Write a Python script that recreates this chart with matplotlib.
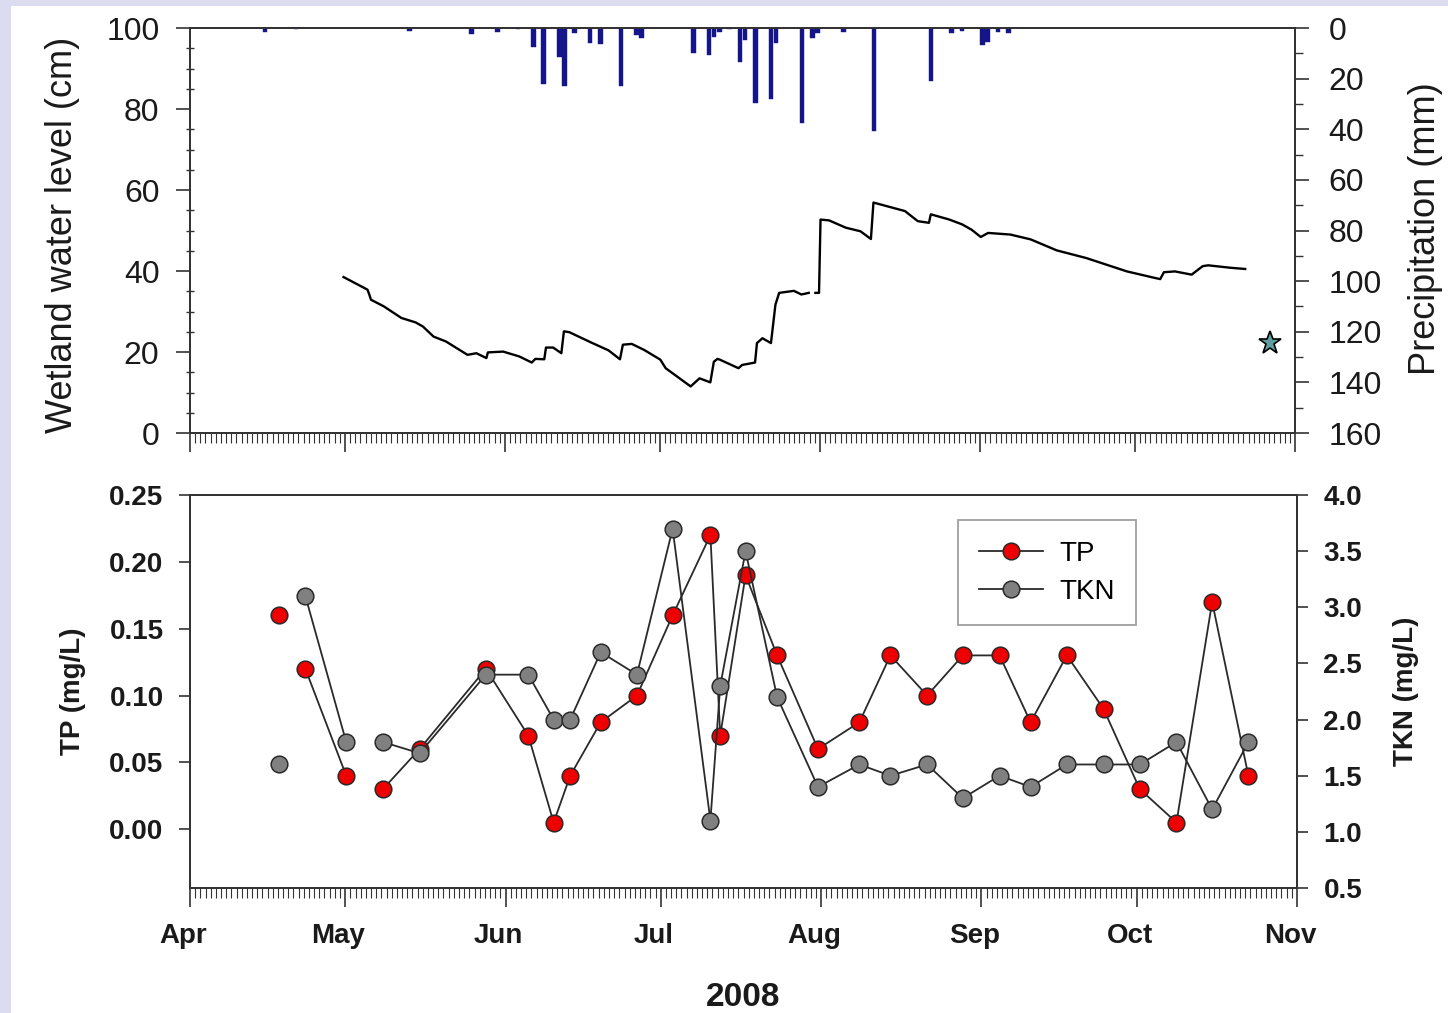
import datetime as dt
import numpy as np
import matplotlib
matplotlib.use("Agg")
import matplotlib.pyplot as plt
import matplotlib.dates as mdates
from matplotlib.ticker import MultipleLocator, FormatStrFormatter
from matplotlib.patches import Rectangle
from matplotlib.transforms import ScaledTranslation

plt.rcParams['font.family'] = ['Liberation Sans', 'DejaVu Sans']

# ---------------- data (days after 1 Apr 2008) ----------------
# wetland water level (cm)
wl_days = [29.74, 34.37, 34.72, 35.05, 37.49, 40.94, 43.71, 45.10, 47.17, 49.57,
           53.74, 55.46, 57.40, 57.69, 60.65, 63.77, 66.19, 66.89, 68.61, 68.94,
           70.33, 71.92, 72.41, 73.45, 77.60, 81.06, 83.27, 83.83, 85.55, 87.97,
           91.09, 92.12, 96.96, 98.68, 100.77, 101.45, 102.15, 102.63, 106.22, 106.93,
           109.43, 109.80, 110.86, 112.51, 113.38, 114.10, 116.96, 118.40, 119.83, 120.5,
           121.11, 121.82, 122.11, 123.76, 126.99, 129.86, 131.87, 132.36, 138.46, 140.96,
           143.11, 143.47, 147.06, 149.55, 151.36, 153.14, 154.57, 158.87, 162.82, 167.84,
           173.57, 181.45, 186.81, 187.90, 188.61, 190.74, 193.98, 196.13, 197.19, 201.49,
           204.36]
wl_level = [38.5, 35.4, 34.2, 32.9, 31.3, 28.4, 27.3, 26.3, 23.8, 22.6,
            19.3, 19.7, 18.5, 19.9, 20.1, 18.9, 17.4, 18.3, 18.2, 21.1,
            21.1, 19.7, 25.1, 24.9, 22.4, 20.4, 18.2, 21.8, 22.0, 20.5,
            18.1, 16.0, 11.5, 13.5, 12.5, 17.6, 18.3, 18.1, 16.0, 16.8,
            17.4, 22.2, 23.4, 22.2, 31.7, 34.6, 35.1, 34.2, 34.6, np.nan,
            34.6, 34.6, 52.7, 52.5, 50.7, 49.8, 47.9, 56.9, 54.8, 52.3,
            51.9, 54.0, 52.7, 51.5, 50.2, 48.4, 49.4, 49.0, 47.8, 45.1,
            43.2, 39.9, 38.3, 38.0, 39.7, 39.9, 39.1, 41.2, 41.4, 40.8,
            40.5]

# daily precipitation (mm)
precip_days = [14, 20, 42, 54, 59, 63, 66, 68, 71, 72, 74, 77, 79, 83, 86, 87,
               97, 100, 101, 102, 104, 106, 107, 109, 112, 113, 118, 120, 121,
               126, 132, 143, 147, 149, 153, 154, 156, 158]
precip_mm = [1.5, 0.5, 1.0, 2.5, 1.5, 0.5, 7.4, 22, 11.6, 23, 2.0, 5.8, 6.3, 23, 2.8, 4.0,
             10, 10.7, 3.4, 1.5, 0.5, 13.3, 4.8, 29.6, 27.9, 6.0, 37.5, 4.0, 2.0,
             1.5, 40.7, 21, 2.0, 1.0, 6.7, 5.4, 1.5, 2.0]

# marker (star)
star_day = [209.1]
star_level = [22.2]

# water quality samples
sample_days = [17.3, 22.3, 30.2, 37.3, 44.4, 57.2, 65.4, 70.3, 73.5, 79.4,
               86.4, 93.3, 100.6, 102.5, 107.4, 113.5, 121.4, 129.4, 135.4, 142.5,
               149.4, 156.5, 162.5, 169.5, 176.6, 183.6, 190.7, 197.6, 204.6]
tp = [0.16, 0.12, 0.04, 0.03, 0.06, 0.12, 0.07, 0.005, 0.04, 0.08,
      0.10, 0.16, 0.22, 0.07, 0.19, 0.13, 0.06, 0.08, 0.13, 0.10,
      0.13, 0.13, 0.08, 0.13, 0.09, 0.03, 0.005, 0.17, 0.04]
tkn = [1.6, 3.1, 1.8, 1.8, 1.7, 2.4, 2.4, 2.0, 2.0, 2.6,
       2.4, 3.7, 1.1, 2.3, 3.5, 2.2, 1.4, 1.6, 1.5, 1.6,
       1.3, 1.5, 1.4, 1.6, 1.6, 1.6, 1.8, 1.2, 1.8]
# sampling breaks (no line drawn across): after index 0 and after index 2
breaks = [0, 2]

month_labels = ['Apr', 'May', 'Jun', 'Jul', 'Aug', 'Sep', 'Oct', 'Nov']

# ---------------- figure ----------------
W, H = 1448, 1013
fig = plt.figure(figsize=(W / 100, H / 100), dpi=100, facecolor='#dcdcf0')
fig.add_artist(Rectangle((11 / W, 0), 1, 1 - 6 / H, transform=fig.transFigure,
                         facecolor='white', edgecolor='none', zorder=-5))

base = mdates.date2num(dt.datetime(2008, 4, 1))
xmax = mdates.date2num(dt.datetime(2008, 11, 1))


def with_breaks(x, y, brk):
    xs, ys = [], []
    for i, (a, b) in enumerate(zip(x, y)):
        xs.append(a)
        ys.append(b)
        if i in brk:
            xs.append(a + 0.01)
            ys.append(np.nan)
    return np.array(xs), np.array(ys)


spine_col = '#333333'
txt_col = '#1a1a1a'

# ---------------- top panel ----------------
ax1 = fig.add_axes([190 / W, 1 - 433 / H, 1105 / W, 405 / H])
ax1.set_facecolor('none')
ax1.plot(base + np.array(wl_days), wl_level, color='black', lw=1.7)
ax1.plot(base + np.array(star_day), star_level, linestyle='none', marker='*',
         ms=17, mfc='#5f9ea0', mec='black', mew=1.2, clip_on=False)
ax1.set_xlim(base, xmax)
ax1.set_ylim(0, 100)
ax1.yaxis.set_major_locator(MultipleLocator(20))
ax1.yaxis.set_minor_locator(MultipleLocator(5))
ax1.xaxis.set_major_locator(mdates.MonthLocator())
ax1.xaxis.set_minor_locator(mdates.DayLocator())
ax1.tick_params(axis='y', which='major', direction='out', length=10, width=1.2,
                labelsize=23, pad=12, colors=spine_col, labelcolor=txt_col)
ax1.tick_params(axis='y', which='minor', direction='inout', length=6, width=1.0,
                colors=spine_col)
ax1.tick_params(axis='x', which='major', direction='out', length=14, width=1.2,
                labelbottom=False, colors=spine_col)
ax1.tick_params(axis='x', which='minor', direction='out', length=7, width=0.8,
                colors=spine_col)
ax1.set_ylabel('Wetland water level (cm)', fontsize=26, color=txt_col)
ax1.yaxis.set_label_coords((80 - 190) / 1105, 0.49)

ax1b = ax1.twinx()
ax1b.bar(base + np.array(precip_days) + 0.5, precip_mm, width=0.9,
         color='#15158a', edgecolor='#15158a', linewidth=0.3)
ax1b.set_ylim(160, 0)
ax1b.set_xlim(base, xmax)
ax1b.yaxis.set_major_locator(MultipleLocator(20))
ax1b.yaxis.set_minor_locator(MultipleLocator(10))
ax1b.tick_params(axis='y', which='major', direction='out', length=10, width=1.2,
                 labelsize=23, pad=14, colors=spine_col, labelcolor=txt_col)
ax1b.tick_params(axis='y', which='minor', direction='out', length=6, width=1.0,
                 colors=spine_col)
ax1b.set_ylabel('Precipitation (mm)', fontsize=26, color=txt_col)
ax1b.yaxis.set_label_coords((1408 - 190) / 1105, 0.505)

for a in (ax1, ax1b):
    for s in a.spines.values():
        s.set_color(spine_col)
        s.set_linewidth(1.3)

# ---------------- bottom panel ----------------
ax2 = fig.add_axes([190 / W, 1 - 888 / H, 1107 / W, 393 / H])
ax2.set_facecolor('none')
xs, ys = with_breaks(base + np.array(sample_days), tp, breaks)
l_tp, = ax2.plot(xs, ys, '-o', color='#2a2a2a', lw=1.3, ms=12, mfc='#ee0000',
                 mec='#2a2a2a', mew=1.1, label='TP')
ax2.set_xlim(base, xmax)
ax2.set_ylim(-0.044, 0.25)
ax2.yaxis.set_major_locator(MultipleLocator(0.05))
ax2.yaxis.set_major_formatter(FormatStrFormatter('%.2f'))
ax2.xaxis.set_major_locator(mdates.MonthLocator())
ax2.xaxis.set_minor_locator(mdates.DayLocator())
ax2.set_xticks([mdates.date2num(dt.datetime(2008, m, 1)) for m in range(4, 12)])
ax2.set_xticklabels(month_labels)
ax2.tick_params(axis='y', which='major', direction='out', length=8, width=1.2,
                labelsize=20, pad=11, colors=spine_col, labelcolor=txt_col)
ax2.tick_params(axis='x', which='major', direction='out', length=14, width=1.2,
                labelsize=20, pad=11, colors=spine_col, labelcolor=txt_col)
ax2.tick_params(axis='x', which='minor', direction='out', length=7, width=0.8,
                colors=spine_col)
for lab in ax2.get_yticklabels() + ax2.get_xticklabels():
    lab.set_fontweight('bold')
shift = ScaledTranslation(-7 / 100, 0, fig.dpi_scale_trans)
for lab in ax2.get_xticklabels():
    lab.set_transform(lab.get_transform() + shift)
ax2.set_ylabel('TP (mg/L)', fontsize=20, fontweight='bold', color=txt_col)
ax2.yaxis.set_label_coords((86 - 190) / 1107, 0.5)
ax2.set_xlabel('2008', fontsize=24, fontweight='bold', color=txt_col, labelpad=24)

ax2b = ax2.twinx()
xs, ys = with_breaks(base + np.array(sample_days), tkn, breaks)
l_tkn, = ax2b.plot(xs, ys, '-o', color='#2a2a2a', lw=1.3, ms=12, mfc='#808080',
                   mec='#2a2a2a', mew=1.1, label='TKN')
ax2b.set_xlim(base, xmax)
ax2b.set_ylim(0.5, 4.0)
ax2b.yaxis.set_major_locator(MultipleLocator(0.5))
ax2b.yaxis.set_major_formatter(FormatStrFormatter('%.1f'))
ax2b.tick_params(axis='y', which='major', direction='out', length=8, width=1.2,
                 labelsize=20, pad=11, colors=spine_col, labelcolor=txt_col)
for lab in ax2b.get_yticklabels():
    lab.set_fontweight('bold')
ax2b.set_ylabel('TKN (mg/L)', fontsize=20, fontweight='bold', color=txt_col)
ax2b.yaxis.set_label_coords((1393 - 190) / 1107, 0.5)

for a in (ax2, ax2b):
    for s in a.spines.values():
        s.set_color(spine_col)
        s.set_linewidth(1.3)

leg = ax2b.legend(handles=[l_tp, l_tkn], loc='upper left',
                  bbox_to_anchor=((958 - 190) / 1107, (888 - 520) / 393),
                  borderaxespad=0, fontsize=20, frameon=True, fancybox=False,
                  handlelength=2.3, handletextpad=0.6, borderpad=0.75,
                  labelspacing=0.42, numpoints=1)
leg.get_frame().set_edgecolor('#888888')
leg.get_frame().set_linewidth(1.3)

fig.savefig('out.png', dpi=100, facecolor=fig.get_facecolor())
